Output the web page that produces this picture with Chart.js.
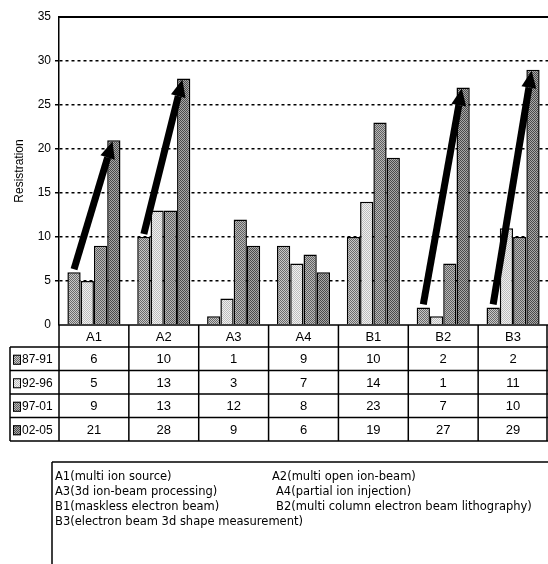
<!DOCTYPE html>
<html>
<head>
<meta charset="utf-8">
<script src="https://cdn.jsdelivr.net/npm/chart.js@4/dist/chart.umd.min.js"></script>
<style>
  body { margin: 0; background: #fff; }
  #wrap { width: 548px; height: 564px; position: relative; }
</style>
</head>
<body>
<div id="wrap"><canvas id="c"></canvas></div>
<script>
// categories and series
const categories = ['A1', 'A2', 'A3', 'A4', 'B1', 'B2', 'B3'];
const seriesNames = ['87-91', '92-96', '97-01', '02-05'];
const s8791 = [6, 10, 1, 9, 10, 2, 2];
const s9296 = [5, 13, 3, 7, 14, 1, 11];
const s9701 = [9, 13, 12, 8, 23, 7, 10];
const s0205 = [21, 28, 9, 6, 19, 27, 29];
const yTicks = [0, 5, 10, 15, 20, 25, 30, 35];
// groups that get the big trend arrow
const arrowCats = ['A1', 'A2', 'B2', 'B3'];
const legendLines = [
  ['A1(multi ion source)', 'A2(multi open ion-beam)'],
  ['A3(3d ion-beam processing)', 'A4(partial ion injection)'],
  ['B1(maskless electron beam)', 'B2(multi column electron beam lithography)'],
  ['B3(electron beam 3d shape measurement)', '']
];

// dithered gray fills like the scanned print
function makePattern(a, b) {
  const p = document.createElement('canvas');
  p.width = 2; p.height = 2;
  const g = p.getContext('2d');
  g.fillStyle = a; g.fillRect(0, 0, 1, 1); g.fillRect(1, 1, 1, 1);
  g.fillStyle = b; g.fillRect(1, 0, 1, 1); g.fillRect(0, 1, 1, 1);
  return g.createPattern(p, 'repeat');
}
const ctx0 = document.getElementById('c').getContext('2d');
const fills = [
  makePattern('#6a6a6a', '#c8c8c8'),
  makePattern('#bdbdbd', '#f0f0f0'),
  makePattern('#606060', '#b8b8b8'),
  makePattern('#4a4a4a', '#a8a8a8')
];

const FONT = '"Liberation Sans", Arial, sans-serif';
const LEGEND_FONT = '"DejaVu Sans", sans-serif';

const tablePlugin = {
  id: 'tablePlugin',
  afterDatasetsDraw(chart) {
    const c = chart.ctx;
    // arrows from the first to the last period
    c.save();
    c.strokeStyle = '#000';
    c.fillStyle = '#000';
    c.lineWidth = 7;
    arrowCats.forEach(cat => {
      const i = categories.indexOf(cat);
      const b1 = chart.getDatasetMeta(0).data[i];
      const b4 = chart.getDatasetMeta(3).data[i];
      const x1 = b1.x, y1 = b1.y - 3;
      const x2 = b4.x - b4.width * 0.1, y2 = b4.y + 1;
      const ang = Math.atan2(y2 - y1, x2 - x1);
      const hl = 17, hw = 7.5;
      const bx = x2 - hl * Math.cos(ang), by = y2 - hl * Math.sin(ang);
      c.beginPath();
      c.moveTo(x1, y1);
      c.lineTo(bx, by);
      c.stroke();
      c.beginPath();
      c.moveTo(x2, y2);
      c.lineTo(bx + hw * Math.sin(ang), by - hw * Math.cos(ang));
      c.lineTo(bx - hw * Math.sin(ang), by + hw * Math.cos(ang));
      c.closePath();
      c.fill();
    });
    c.restore();
  },
  afterDraw(chart) {
    const c = chart.ctx;
    const area = chart.chartArea;
    const xs = chart.scales.x;
    const n = categories.length;
    const colW = (area.right - area.left) / n;
    const top = area.bottom;
    const rowH = [22, 23.5, 23.5, 23.5, 23.5];
    const ys = [top];
    rowH.forEach(h => ys.push(ys[ys.length - 1] + h));
    const labelLeft = 10;

    c.save();
    // top border of plot
    c.strokeStyle = '#000';
    c.lineWidth = 2;
    c.beginPath();
    c.moveTo(area.left, area.top);
    c.lineTo(area.right, area.top);
    c.stroke();

    // table grid
    c.lineWidth = 1.5;
    c.beginPath();
    c.moveTo(area.left, ys[0]); c.lineTo(area.right, ys[0]);
    for (let r = 1; r < ys.length; r++) {
      c.moveTo(labelLeft, ys[r]); c.lineTo(area.right, ys[r]);
    }
    for (let i = 0; i <= n; i++) {
      const x = i < n ? xs.getPixelForValue(i) - colW / 2 : area.right - 1;
      c.moveTo(x, ys[0]); c.lineTo(x, ys[ys.length - 1]);
    }
    c.moveTo(labelLeft, ys[1]); c.lineTo(labelLeft, ys[ys.length - 1]);
    c.stroke();

    // header row
    c.fillStyle = '#000';
    c.textAlign = 'center';
    c.textBaseline = 'middle';
    c.font = '13px ' + FONT;
    categories.forEach((cat, i) => {
      c.fillText(cat, xs.getPixelForValue(i), (ys[0] + ys[1]) / 2 + 1);
    });

    // data rows
    const rows = [s8791, s9296, s9701, s0205];
    rows.forEach((vals, r) => {
      const yc = (ys[r + 1] + ys[r + 2]) / 2 + 1;
      vals.forEach((v, i) => {
        c.fillText(String(v), xs.getPixelForValue(i), yc);
      });
      // row label with swatch
      c.fillStyle = fills[r];
      c.fillRect(13, yc - 5, 8, 10);
      c.strokeStyle = '#000';
      c.lineWidth = 1;
      c.strokeRect(13.5, yc - 4.5, 7, 9);
      c.fillStyle = '#000';
      c.textAlign = 'left';
      c.font = '12px ' + FONT;
      c.fillText(seriesNames[r], 22, yc);
      c.textAlign = 'center';
      c.font = '13px ' + FONT;
    });

    // legend box
    const lx = 52, ly = 462;
    c.lineWidth = 1.5;
    c.beginPath();
    c.moveTo(lx, ly); c.lineTo(548, ly);
    c.moveTo(lx, ly); c.lineTo(lx, 564);
    c.stroke();
    c.textAlign = 'left';
    c.font = '11.5px ' + LEGEND_FONT;
    legendLines.forEach((pair, k) => {
      const y = 477 + k * 15;
      c.fillText(pair[0], 55, y);
      if (pair[1]) c.fillText(pair[1], k === 0 ? 272 : 276, y);
    });
    c.restore();
  }
};

const chart = new Chart(ctx0, {
  type: 'bar',
  data: {
    labels: categories,
    datasets: [s8791, s9296, s9701, s0205].map((d, i) => ({
      label: seriesNames[i],
      data: d,
      backgroundColor: fills[i],
      borderColor: '#000',
      borderWidth: 1.5,
      categoryPercentage: 0.76,
      barPercentage: 1.0
    }))
  },
  options: {
    responsive: true,
    maintainAspectRatio: false,
    animation: false,
    layout: { padding: { top: 17, right: 0, bottom: 239, left: 12 } },
    plugins: {
      legend: { display: false },
      tooltip: { enabled: false }
    },
    scales: {
      x: { display: false },
      y: {
        min: 0,
        max: 35,
        afterBuildTicks: s => { s.ticks = yTicks.map(v => ({ value: v })); },
        afterFit: s => { s.width = 47; },
        ticks: {
          color: '#000',
          font: { size: 12, family: FONT },
          padding: 4
        },
        grid: {
          color: ctx => (ctx.tick && (ctx.tick.value === 0 || ctx.tick.value === 35)) ? 'rgba(0,0,0,0)' : '#000',
          lineWidth: 1.5,
          drawTicks: true,
          tickLength: 4
        },
        border: { display: true, color: '#000', width: 1.5, dash: [3, 3] },
        title: {
          display: true,
          text: 'Resistration',
          color: '#000',
          font: { size: 12, family: FONT },
          padding: 0
        }
      }
    }
  },
  plugins: [tablePlugin]
});
</script>
</body>
</html>
